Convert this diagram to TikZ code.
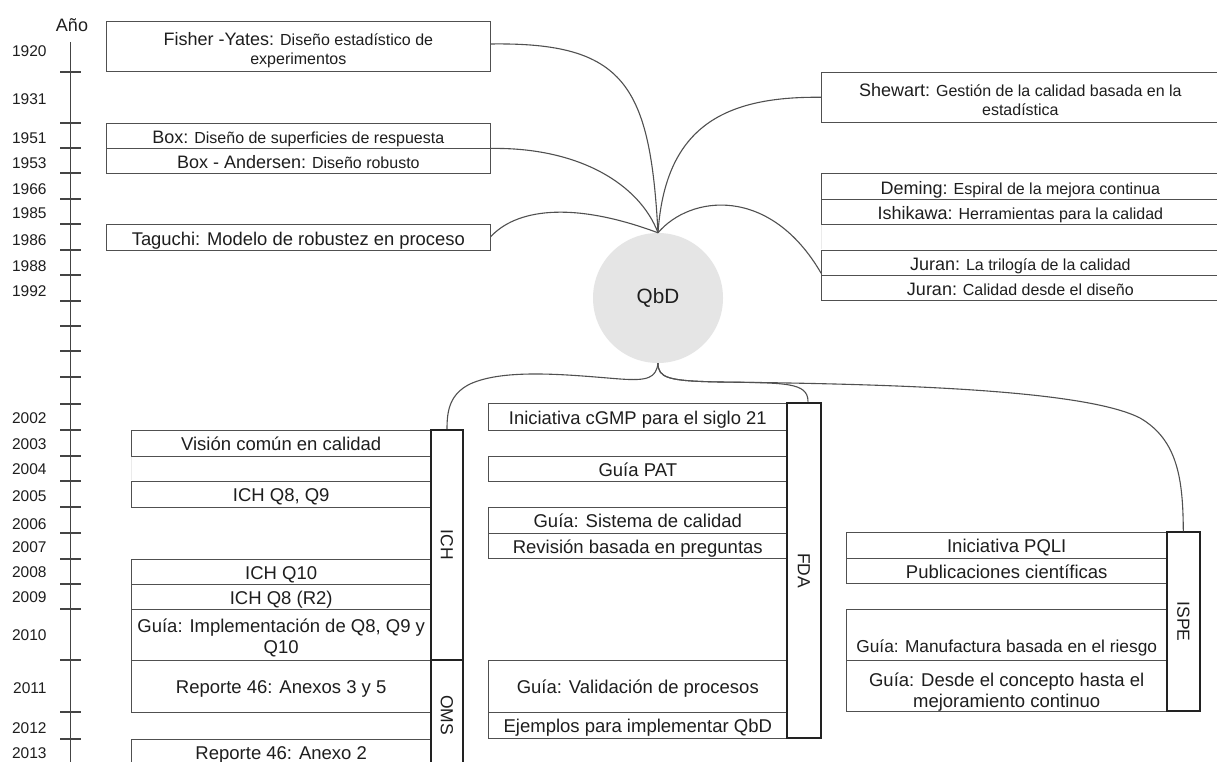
\documentclass[tikz,border=0pt]{standalone}
\usepackage{fontspec}
\setmainfont{Liberation Sans}
\usetikzlibrary{calc}
\definecolor{ln}{HTML}{505050}
\definecolor{txt}{HTML}{1E1E1E}
\definecolor{gln}{HTML}{222222}
\definecolor{axc}{HTML}{444444}
\newcommand\nm[1]{{\fontsize{18}{19}\selectfont #1}}
\newcommand\bxnode[7][]{\node[bx,#1,minimum width={(#5-#3)*1pt},minimum height={(#6-#4)*1pt}] (#2) at ({(#3+#5)/2},{(#4+#6)/2}) {#7};}
\newcommand\mline[3]{\raisebox{-#1}[0pt][0pt]{\parbox{#2}{\centering #3}}}
\begin{document}
\begin{tikzpicture}[x=1pt,y=-1pt,
  bx/.style={draw=ln,line width=0.9pt,inner sep=0pt,align=center,text=txt,font=\fontsize{18.5}{21.5}\selectfont,text height=15pt,text depth=0pt},
  topf/.style={font=\fontsize{16}{19}\selectfont,text height=16pt},
  ml/.style={text height=0pt,text depth=0pt},
  grp/.style={draw=gln,line width=2.2pt,inner sep=0pt,text=txt,font=\fontsize{17.5}{20}\selectfont},
  yrlab/.style={anchor=east,inner sep=0pt,text=txt,font=\fontsize{15.5}{17}\selectfont},
  axisline/.style={draw=axc,line width=1.1pt},
  conn/.style={draw=ln,line width=1.1pt},
  faint/.style={draw=black!8,line width=0.9pt}]
\useasboundingbox (0,0) rectangle (1217,762);
\fill[white] (0,0) rectangle (1217,762);
% axis
\node[text=txt,inner sep=0pt,font=\fontsize{18}{20}\selectfont] (ano) at (72,25) {Año};
\draw[axisline] (70.5,42) -- (70.5,766);
\foreach \t in {72,123,148,173,199,224,250,275,301,326,351,377,404,430,456,481,507,533,559,584,609,660,712,739}
  \draw[axisline] (60,\t) -- (81,\t);
\foreach \yr/\yy in {1920/51,1931/99,1951/138,1953/163,1966/189,1985/213,1986/240,1988/266,1992/291,2002/418,2003/444,2004/469,2005/496,2006/524,2007/547,2008/572,2009/597,2010/635,2011/688,2012/728,2013/753}
  \node[yrlab] (y\yr) at (46.7,\yy) {\yr};
% QbD
\node[circle,fill=black!10,minimum size=130pt,inner sep=0pt,text=txt,font=\fontsize{20.7}{22}\selectfont] (qbd) at (658,298) {QbD};
% top left
\bxnode[topf,ml]{fisher}{106.7}{21.7}{490}{71.7}{\mline{7.4pt}{380pt}{\nm{Fisher -Yates:} Diseño estadístico de\\experimentos}}
\bxnode[topf]{box}{106.7}{123}{490}{148}{\nm{Box:} Diseño de superficies de respuesta}
\bxnode[topf]{boxa}{106.7}{148}{490}{173}{\nm{Box - Andersen:} Diseño robusto}
\bxnode[topf,font=\fontsize{18.4}{20}\selectfont]{tag}{106.7}{224}{490}{250}{Taguchi: Modelo de robustez en proceso}
% top right
\bxnode[topf,ml]{shew}{821.7}{72.3}{1219}{122.3}{\mline{6.8pt}{390pt}{\nm{Shewart:} Gestión de la calidad basada en la\\estadística}}
\bxnode[topf]{dem}{821.7}{173}{1219}{199}{\nm{Deming:} Espiral de la mejora continua}
\bxnode[topf]{ish}{821.7}{199}{1219}{224}{\nm{Ishikawa:} Herramientas para la calidad}
\bxnode[topf]{jur1}{821.7}{250}{1219}{275}{\nm{Juran:} La trilogía de la calidad}
\bxnode[topf]{jur2}{821.7}{275}{1219}{300.5}{\nm{Juran:} Calidad desde el diseño}
\draw[faint] (821.7,224.6) -- (821.7,249.4);
% ICH / OMS
\bxnode{vis}{131.7}{430}{430.7}{456}{Visión común en calidad}
\bxnode{q89}{131.7}{481}{430.7}{507}{ICH Q8, Q9}
\bxnode{q10}{131.7}{559}{430.7}{584}{ICH Q10}
\bxnode{q8r}{131.7}{584}{430.7}{609}{ICH Q8 (R2)}
\bxnode[ml]{gimp}{131.7}{609}{430.7}{660}{\mline{7.6pt}{299pt}{Guía: Implementación de Q8, Q9 y\\Q10}}
\bxnode{r35}{131.7}{660}{430.7}{712}{Reporte 46: Anexos 3 y 5}
\bxnode{r2}{131.7}{739}{430.7}{765}{Reporte 46: Anexo 2}
\draw[faint] (131.7,456.6) -- (131.7,480.4);
\node[grp,minimum width=32.6pt,minimum height=230pt] (ich) at (447,545) {\rotatebox{-90}{ICH}};
\node[grp,minimum width=32.6pt,minimum height=110pt] (oms) at (447,715) {\rotatebox{-90}{OMS}};
% FDA
\bxnode[font=\fontsize{18.4}{21}\selectfont]{cgmp}{488.3}{403}{787.3}{430}{Iniciativa cGMP para el siglo 21}
\bxnode{pat}{488.3}{456}{787.3}{481}{Guía PAT}
\bxnode{sist}{488.3}{507}{787.3}{533}{Guía: Sistema de calidad}
\bxnode{rev}{488.3}{533}{787.3}{558.5}{Revisión basada en preguntas}
\bxnode{val}{488.3}{660.5}{787.3}{712}{Guía: Validación de procesos}
\bxnode{ejem}{488.3}{712}{787.3}{738.3}{Ejemplos para implementar QbD}
\node[grp,minimum width=33.4pt,minimum height=335.6pt] (fda) at (804,570.5) {\rotatebox{-90}{FDA}};
% ISPE
\bxnode{pqli}{846.7}{532.3}{1166.7}{558.3}{Iniciativa PQLI}
\bxnode{pub}{846.7}{558.3}{1166.7}{583.5}{Publicaciones científicas}
\bxnode{manu}{846.7}{609.3}{1166.7}{660}{}
\node[text=txt,inner sep=0pt,font=\fontsize{17.3}{20}\selectfont] (manut) at (1006.7,648) {Guía: Manufactura basada en el riesgo};
\bxnode[ml]{desde}{846.7}{660}{1166.7}{711}{\mline{11pt}{318pt}{Guía: Desde el concepto hasta el\\mejoramiento continuo}}
\node[grp,minimum width=33.3pt,minimum height=178.7pt] (ispe) at (1183.3,621.7) {\rotatebox{-90}{ISPE}};
% top connectors
\draw[conn] ($(fisher.east)+(0,-2.7)$) .. controls (625,42) and (650,85) .. (qbd.north);
\draw[conn] (box.south east) .. controls (580,147) and (640,185) .. (qbd.north);
\draw[conn] (tag.east) .. controls (515,210) and (570,200) .. (qbd.north);
\draw[conn] (qbd.north) .. controls (665,130) and (720,96) .. (shew.west);
\draw[conn] (qbd.north) .. controls (690,195) and (770,185) .. ($(jur1.south west)+(0,-2)$);
% bottom connectors
\draw[conn] (qbd.south) .. controls (656,378) and (648,381) .. (620,379) .. controls (570,375) and (505,368) .. (470,384) .. controls (450,394) and (447,410) .. (ich.north);
\draw[conn] (qbd.south) .. controls (658,378) and (668,381) .. (720,382) .. controls (785,383) and (808,382) .. ($(fda.north)+(4,0)$);
\draw[conn] (qbd.south) .. controls (658,378) and (668,381) .. (720,382) .. controls (900,384) and (1085,390) .. (1140,418) .. controls (1178,440) and (1183,480) .. (ispe.north);
\end{tikzpicture}
\end{document}
